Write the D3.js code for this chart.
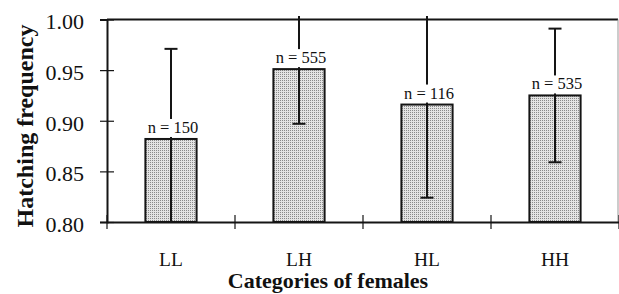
<!DOCTYPE html>
<html><head><meta charset="utf-8">
<script src="https://cdn.jsdelivr.net/npm/d3@7"></script>
<style>body{margin:0;background:#fff}svg{display:block}text{font-family:"Liberation Serif","Times New Roman",serif;fill:#111}</style>
</head><body><svg id="c" width="619" height="294"></svg>
<script>
const categories = ["LL","LH","HL","HH"];
const means = [0.882, 0.951, 0.916, 0.925];
const upper = [0.971, 1.005, 1.008, 0.991];
const lower = [0.793, 0.897, 0.824, 0.859];
const nLabels = ["n = 150","n = 555","n = 116","n = 535"];
const yTicks = [0.80, 0.85, 0.90, 0.95, 1.00];

const svg = d3.select("#c");
const L = 107, R = 618, T = 19.5, B = 222;
const x = d3.scaleBand().domain(categories).range([L, R + 1]).paddingInner(0.6).paddingOuter(0.3);
const y = d3.scaleLinear().domain([0.80, 1.00]).range([B, T]);
const ink = "#151515";

const defs = svg.append("defs");
const pat = defs.append("pattern").attr("id","stip").attr("width",2).attr("height",2).attr("patternUnits","userSpaceOnUse");
pat.append("rect").attr("width",2).attr("height",2).attr("fill","#e4e4e4");
pat.append("rect").attr("width",1).attr("height",1).attr("fill","#8a8a8a");
defs.append("clipPath").attr("id","clip").append("rect")
  .attr("x", L).attr("y", y(1.0) - 3.5).attr("width", R - L + 2).attr("height", B - y(1.0) + 3.5);

// frame top/right
svg.append("line").attr("x1",L).attr("x2",R).attr("y1",T).attr("y2",T).attr("stroke",ink).attr("stroke-width",2);
svg.append("line").attr("x1",R).attr("x2",R).attr("y1",T).attr("y2",B).attr("stroke","#999").attr("stroke-width",1);

// bars
svg.append("g").selectAll("rect").data(categories).join("rect")
  .attr("x", d => x(d)).attr("width", x.bandwidth())
  .attr("y", (d,i) => y(means[i])).attr("height", (d,i) => y(0.80) - y(means[i]))
  .attr("fill","url(#stip)").attr("stroke",ink).attr("stroke-width",2);

// error bars
const eg = svg.append("g").attr("clip-path","url(#clip)");
categories.forEach((c,i) => {
  const cx = x(c) + x.bandwidth()/2;
  eg.append("line").attr("x1",cx).attr("x2",cx).attr("y1",y(upper[i])).attr("y2",y(lower[i]))
    .attr("stroke",ink).attr("stroke-width",2);
  [upper[i], lower[i]].forEach(v => {
    if (v <= 1.0 && v >= 0.80) eg.append("line").attr("x1",cx-6.5).attr("x2",cx+6.5).attr("y1",y(v)).attr("y2",y(v))
      .attr("stroke",ink).attr("stroke-width",2);
  });
});

// n labels with white boxes
categories.forEach((c,i) => {
  const cx = x(c) + x.bandwidth()/2 + 2;
  const g = svg.append("g");
  const t = g.append("text").attr("x",cx).attr("y",y(means[i]) - 6).attr("text-anchor","middle")
    .attr("font-size",16.5).text(nLabels[i]);
  const bb = t.node().getBBox();
  g.insert("rect","text").attr("x",bb.x).attr("y",bb.y+1).attr("width",bb.width).attr("height",bb.height-1).attr("fill","#fff");
});

// y axis
const ya = svg.append("g").attr("transform",`translate(${L},0)`)
  .call(d3.axisLeft(y).tickValues(yTicks).tickFormat(d3.format(".2f")).tickSize(7).tickPadding(16));
ya.attr("font-family",null);
ya.select(".domain").attr("stroke",ink).attr("stroke-width",2);
ya.selectAll(".tick line").attr("x1",-7).attr("x2",7).attr("stroke",ink).attr("stroke-width",1.2);
ya.selectAll(".tick text").attr("font-size",22).attr("fill","#111").attr("dy","0.42em");

// x axis
const xa = svg.append("g").attr("transform",`translate(0,${B})`)
  .call(d3.axisBottom(x).tickSize(0).tickPadding(30));
xa.attr("font-family",null);
xa.select(".domain").attr("stroke",ink).attr("stroke-width",2);
xa.selectAll(".tick text").attr("font-size",19.5).attr("fill","#111");
const step = x.step();
const bounds = d3.range(categories.length + 1).map(k => L + k * step);
xa.selectAll("line.bt").data(bounds).join("line").attr("class","bt")
  .attr("x1", d => d).attr("x2", d => d).attr("y1",-7).attr("y2",7).attr("stroke",ink).attr("stroke-width",1.2);

// titles
svg.append("text").attr("x",328).attr("y",288).attr("text-anchor","middle")
  .attr("font-size",22).attr("font-weight","bold").text("Categories of females");
svg.append("text").attr("transform","translate(33,126) rotate(-90)").attr("text-anchor","middle")
  .attr("font-size",24).attr("font-weight","bold").text("Hatching frequency");
</script></body></html>
